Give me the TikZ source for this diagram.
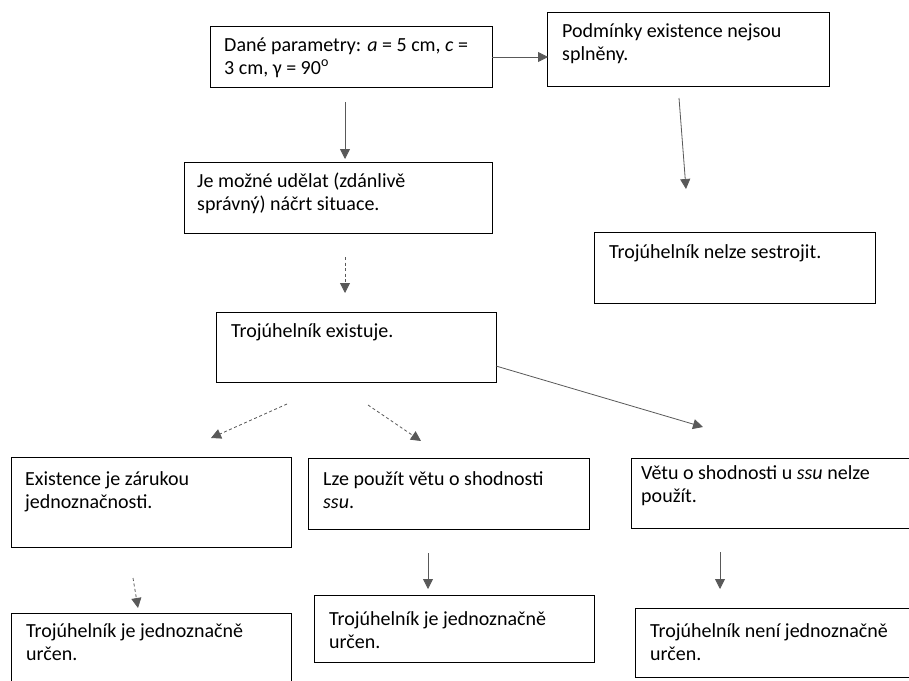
\documentclass[tikz,border=0pt]{standalone}
\usepackage{fontspec}
\setmainfont{Carlito}
\usetikzlibrary{arrows.meta}
\definecolor{arrgray}{RGB}{89,89,89}
\tikzset{
  box/.style={draw=black, line width=0.8pt, anchor=north west, inner sep=0pt},
  txt/.style={anchor=base west, inner sep=0pt, font=\fontsize{20}{23.5}\selectfont},
  conn/.style={draw=arrgray, line width=0.8pt, -{Triangle[width=10pt,length=10pt]}},
  dconn/.style={conn, dash pattern=on 3pt off 2.5pt}
}
\newcommand{\boxlines}[1]{\parbox[t]{340pt}{\raggedright #1}}
\begin{document}
\begin{tikzpicture}[x=1pt, y=-1pt]
  \useasboundingbox (0,0) rectangle (909,680);
  \clip (0,0) rectangle (909,680);
  \fill[white] (0,0) rectangle (909,680);

  % boxes
  \node[box, minimum width=282pt, minimum height=61pt] (b1) at (210,26) {};
  \node[box, minimum width=282pt, minimum height=74pt] (b2) at (547,12) {};
  \node[box, minimum width=281pt, minimum height=71pt] (b3) at (594,232) {};
  \node[box, minimum width=308pt, minimum height=71pt] (b4) at (184,162) {};
  \node[box, minimum width=280pt, minimum height=70pt] (b5) at (216,312) {};
  \node[box, minimum width=280pt, minimum height=90pt] (b6) at (11,457) {};
  \node[box, minimum width=281pt, minimum height=71pt] (b7) at (308,458) {};
  \node[box, minimum width=284pt, minimum height=70pt] (b8) at (631,458) {};
  \node[box, minimum width=280pt, minimum height=72pt] (b9) at (11,613) {};
  \node[box, minimum width=280pt, minimum height=67pt] (b10) at (314,595) {};
  \node[box, minimum width=280pt, minimum height=69pt] (b11) at (635,608) {};

  % texts
  \node[txt] (t1) at (224,51) {\boxlines{Dané parametry: \textit{a} = 5 cm, \textit{c} =\\3 cm, γ = 90\textsuperscript{o}}};
  \node[txt] (t2) at (562,37) {\boxlines{Podmínky existence nejsou\\splněny.}};
  \node[txt] (t3) at (609,258) {\boxlines{Trojúhelník nelze sestrojit.}};
  \node[txt] (t4) at (197,187) {\boxlines{Je možné udělat (zdánlivě\\správný) náčrt situace.}};
  \node[txt] (t5) at (231,337) {\boxlines{Trojúhelník existuje.}};
  \node[txt] (t6) at (25,485) {\boxlines{Existence je zárukou\\jednoznačnosti.}};
  \node[txt] (t7) at (323,485) {\boxlines{Lze použít větu o shodnosti\\\textit{ssu}.}};
  \node[txt] (t8) at (641,479) {\boxlines{Větu o shodnosti u \textit{ssu} nelze\\použít.}};
  \node[txt] (t9) at (26,637) {\boxlines{Trojúhelník je jednoznačně\\určen.}};
  \node[txt] (t10) at (329,625) {\boxlines{Trojúhelník je jednoznačně\\určen.}};
  \node[txt] (t11) at (650,637) {\boxlines{Trojúhelník není jednoznačně\\určen.}};

  % connector end points
  \coordinate (p1a) at (492,57);   \coordinate (p1b) at (548,57);
  \coordinate (p2a) at (679,98);   \coordinate (p2b) at (686,189);
  \coordinate (p3a) at (345,102);  \coordinate (p3b) at (345,159);
  \coordinate (p4a) at (345,257);  \coordinate (p4b) at (345,293);
  \coordinate (p5a) at (287,404);  \coordinate (p5b) at (211,438);
  \coordinate (p6a) at (368,405);  \coordinate (p6b) at (421,441);
  \coordinate (p7a) at (496,366);  \coordinate (p7b) at (703,427);
  \coordinate (p8a) at (133,578);  \coordinate (p8b) at (138,608);
  \coordinate (p9a) at (428,553);  \coordinate (p9b) at (428,589);
  \coordinate (p10a) at (720,552); \coordinate (p10b) at (720,589);

  % connectors
  \draw[conn] (p1a) -- (p1b);
  \draw[conn] (p2a) -- (p2b);
  \draw[conn] (p3a) -- (p3b);
  \draw[dconn] (p4a) -- (p4b);
  \draw[dconn] (p5a) -- (p5b);
  \draw[dconn] (p6a) -- (p6b);
  \draw[conn] (p7a) -- (p7b);
  \draw[dconn] (p8a) -- (p8b);
  \draw[conn] (p9a) -- (p9b);
  \draw[conn] (p10a) -- (p10b);
\end{tikzpicture}
\end{document}
